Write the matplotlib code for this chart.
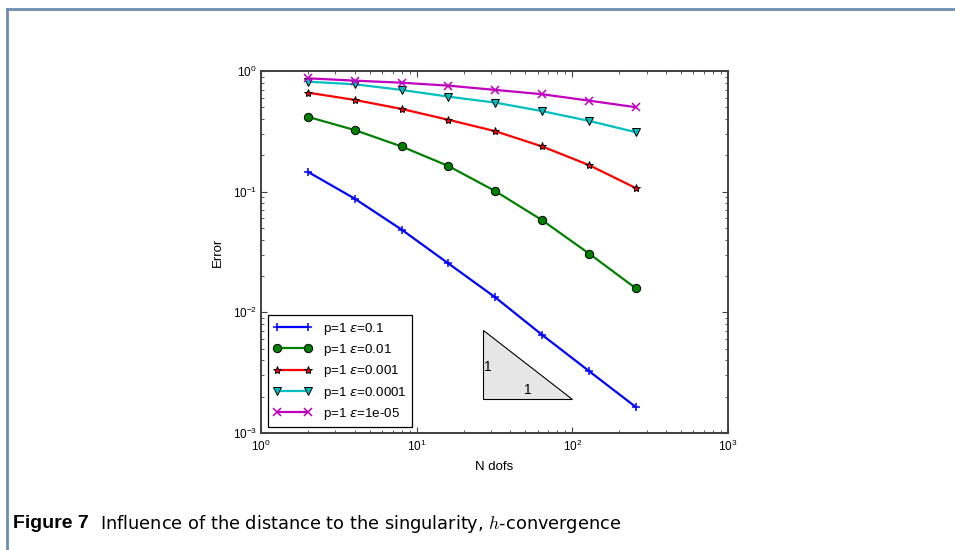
import matplotlib
matplotlib.use("Agg")
import matplotlib.pyplot as plt
from matplotlib.lines import Line2D
from matplotlib.patches import Polygon

plt.rcParams["font.family"] = ["Liberation Sans", "DejaVu Sans"]
plt.rcParams["mathtext.fontset"] = "dejavusans"
plt.rcParams["axes.unicode_minus"] = False

# number of degrees of freedom
ndofs = [2, 4, 8, 16, 32, 64, 128, 256]

# error per distance to the singularity
err_eps_1e1 = [0.146, 0.0875, 0.0485, 0.0254, 0.0133, 0.0065, 0.00326, 0.00164]
err_eps_1e2 = [0.417, 0.324, 0.237, 0.163, 0.101, 0.058, 0.0307, 0.0158]
err_eps_1e3 = [0.662, 0.576, 0.485, 0.394, 0.317, 0.237, 0.166, 0.107]
err_eps_1e4 = [0.816, 0.776, 0.697, 0.613, 0.547, 0.465, 0.386, 0.311]
err_eps_1e5 = [0.870, 0.832, 0.800, 0.756, 0.697, 0.642, 0.568, 0.501]

labels = [r"p=1 $\varepsilon$=0.1", r"p=1 $\varepsilon$=0.01",
          r"p=1 $\varepsilon$=0.001", r"p=1 $\varepsilon$=0.0001",
          r"p=1 $\varepsilon$=1e-05"]

# slope triangle corners (x range, lower y)
tri_x = [26.5, 100.0]
tri_y0 = 0.0019

fig = plt.figure(figsize=(9.55, 5.5), dpi=100)

# frame around the figure panel
frame_col = "#6f8db0"
fig.add_artist(Line2D([6.5 / 955, 1.0], [1 - 8.5 / 550] * 2, color=frame_col, lw=2,
                      transform=fig.transFigure))
fig.add_artist(Line2D([6.5 / 955] * 2, [0.0, 1 - 8.5 / 550], color=frame_col, lw=2,
                      transform=fig.transFigure))

ax = fig.add_axes([261 / 955, 1 - 433 / 550, 467 / 955, 362 / 550])

styles = [
    dict(color="#0000ff", marker="+", ms=6, mew=1.1),
    dict(color="#008000", marker="o", ms=6, mfc="#008000", mec="black", mew=0.7),
    dict(color="#ff0000", marker="*", ms=6, mfc="#ff0000", mec="black", mew=0.7),
    dict(color="#00bfbf", marker="v", ms=6, mfc="#00bfbf", mec="black", mew=0.7),
    dict(color="#bf00bf", marker="x", ms=6, mew=1.1),
]
series = [err_eps_1e1, err_eps_1e2, err_eps_1e3, err_eps_1e4, err_eps_1e5]
for err, lab, st in zip(series, labels, styles):
    ax.loglog(ndofs, err, lw=1.6, label=lab, **st)

# slope-1 reference triangle
tri_y1 = tri_y0 * tri_x[1] / tri_x[0]
tri = Polygon([(tri_x[0], tri_y1), (tri_x[0], tri_y0), (tri_x[1], tri_y0)],
              closed=True, facecolor="#e6e6e6", edgecolor="black", lw=0.8)
ax.add_patch(tri)
ax.text(tri_x[0] * 1.02, (tri_y0 * tri_y1) ** 0.5 * 0.95, "1", fontsize=10,
        ha="left", va="center")
ax.text((tri_x[0] * tri_x[1]) ** 0.5, tri_y0 * 1.05, "1", fontsize=10,
        ha="center", va="bottom")

ax.set_xlim(1, 1000)
ax.set_ylim(1e-3, 1)
ax.set_xlabel("N dofs", fontsize=9.5, labelpad=5)
ax.set_ylabel("Error", fontsize=9.5, labelpad=6)

for sp in ax.spines.values():
    sp.set_color("#404040")
    sp.set_linewidth(1.4)
ax.tick_params(which="both", direction="in", top=True, right=True, labelsize=8.5,
               color="#404040")
ax.tick_params(which="major", length=4, width=0.8)
ax.tick_params(axis="x", which="major", pad=4)
ax.tick_params(axis="y", which="major", pad=3)
ax.tick_params(which="minor", length=2.5, width=0.6)

leg = ax.legend(loc="lower left", bbox_to_anchor=(0.015, 0.016), fontsize=9.6,
                numpoints=2, handlelength=2.9, fancybox=False, framealpha=1,
                edgecolor="black", borderpad=0.4, labelspacing=0.4,
                handletextpad=0.8, borderaxespad=0)
leg.get_frame().set_linewidth(0.9)

fig.text(13 / 955, 1 - 524 / 550, "Figure 7", fontsize=14, fontweight="bold",
         family="Liberation Sans", ha="left", va="center")
fig.text(100 / 955, 1 - 524 / 550,
         r"Influence of the distance to the singularity, $h$-convergence",
         fontsize=12.8, family="DejaVu Sans", math_fontfamily="cm",
         ha="left", va="center")

fig.savefig("out.png", dpi=100)
